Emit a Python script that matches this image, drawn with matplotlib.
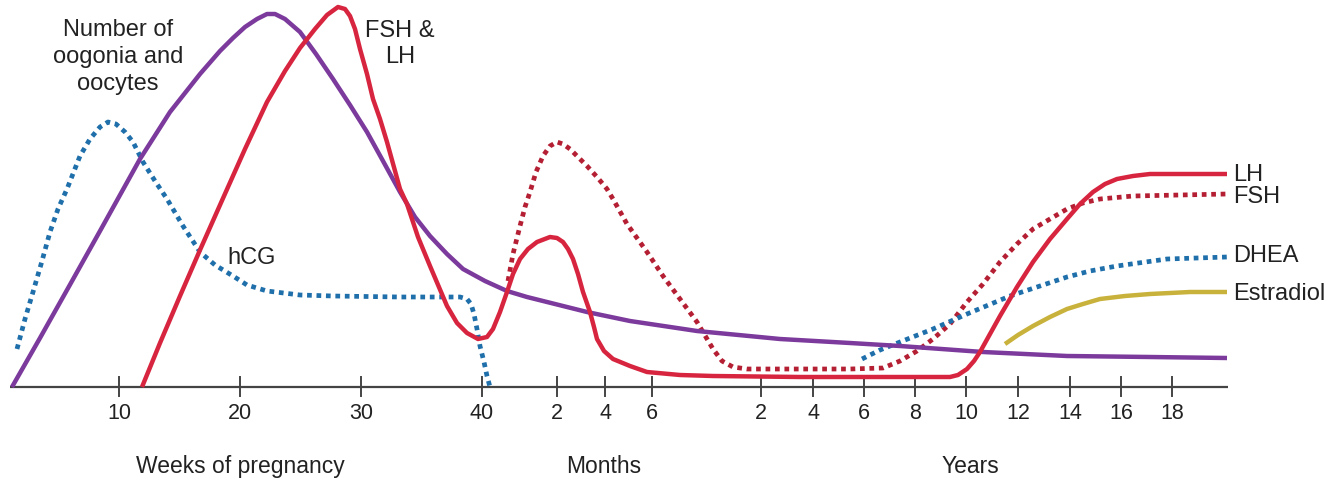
import matplotlib.pyplot as plt

# schematic chart: x in chart units along the time axis, y measured downward from the top
tick_x = [119, 240, 361, 482, 557, 605, 652, 761, 813, 864, 915, 966, 1018, 1070, 1121, 1172]
tick_labels = ['10', '20', '30', '40', '2', '4', '6', '2', '4', '6', '8', '10', '12', '14', '16', '18']

oog_x = [12, 40, 67, 100, 140, 170, 200, 220, 233, 245, 257, 267, 275, 285, 300, 316, 333, 350, 367, 383,
         400, 415, 430, 447, 463, 485, 507, 527, 547, 587, 630, 697, 780, 850, 900, 983, 1067, 1150, 1227]
oog_y = [388, 339, 291, 232, 160, 113, 75, 52, 39, 28, 20, 15, 15, 20, 33, 55, 80, 106, 133, 162,
         193, 218, 237, 255, 270, 282, 292, 298, 303, 313, 322, 332, 340, 344, 347, 353, 357, 358, 359]

lh_x = [142, 160, 180, 200, 220, 245, 267, 285, 300, 315, 327, 338, 345, 350, 355, 360, 367, 373,
        380, 387, 400, 407, 418, 430, 447, 457, 467, 478, 487, 493, 500, 507, 513, 520, 528, 537, 550, 557,
        563, 568, 573, 578, 583, 590, 594, 597, 604, 613, 630, 647, 680, 713, 800, 900, 950, 958, 967, 974,
        980, 1000, 1017, 1033, 1050, 1067, 1080, 1093, 1105, 1117, 1133, 1150, 1227]
lh_y = [388, 344, 297, 251, 206, 150, 103, 72, 49, 30, 16, 8, 10, 17, 30, 50, 75, 100,
        120, 143, 190, 205, 238, 267, 307, 324, 334, 340, 338, 330, 313, 293, 275, 260, 250, 243, 238, 239,
        243, 250, 260, 275, 293, 313, 328, 340, 352, 360, 367, 373, 376, 377, 378, 378, 378, 376, 370, 362,
        353, 317, 288, 263, 240, 220, 205, 193, 185, 180, 177, 175, 175]

hcg_x = [17, 25, 33, 42, 50, 58, 67, 80, 90, 100, 108, 116, 125, 133, 143, 155, 167, 183, 200, 215,
         233, 247, 267, 300, 333, 400, 460, 467, 471, 474, 477, 480, 484, 487, 490]
hcg_y = [350, 320, 293, 262, 233, 210, 190, 157, 140, 128, 123, 125, 133, 143, 163, 182, 200, 227, 253, 266,
         277, 286, 292, 296, 297, 298, 298, 300, 305, 315, 330, 347, 363, 377, 388]

fsh_x = [508, 513, 520, 525, 530, 536, 543, 550, 557, 563, 570, 580, 587, 597, 607, 613, 627, 647, 663, 680,
         697, 713, 722, 733, 747, 780, 850, 883, 900, 917, 933, 950, 967, 983, 1000, 1017, 1033, 1050, 1067,
         1083, 1100, 1133, 1227]
fsh_y = [282, 255, 227, 208, 193, 173, 157, 147, 143, 145, 150, 160, 167, 178, 190, 200, 225, 253, 277, 300,
         323, 350, 362, 368, 370, 370, 370, 369, 362, 352, 340, 325, 303, 285, 263, 245, 230, 220, 210,
         204, 200, 197, 195]

dhea_x = [862, 880, 900, 933, 967, 1010, 1040, 1067, 1090, 1117, 1167, 1227]
dhea_y = [360, 351, 343, 330, 315, 297, 287, 278, 272, 267, 260, 258]

e2_x = [1005, 1018, 1033, 1050, 1067, 1083, 1100, 1125, 1150, 1190, 1227]
e2_y = [345, 336, 327, 318, 310, 305, 300, 297, 295, 293, 293]

fig = plt.figure(figsize=(13.37, 4.81), dpi=100)
ax = fig.add_axes([0, 0, 1, 1])
ax.set_xlim(0, 1337)
ax.set_ylim(481, 0)
ax.axis('off')
plt.rcParams['font.family'] = ['Liberation Sans', 'DejaVu Sans']
txt = '#222222'

# axis line and ticks
ax.plot([10, 1228], [388, 388], color='#444444', lw=1.6, solid_capstyle='butt', zorder=1)
for tx, tl in zip(tick_x, tick_labels):
    ax.plot([tx, tx], [378, 397], color='#444444', lw=1.4, zorder=1)
    ax.text(tx, 414, tl, ha='center', va='center', fontsize=15.5, color=txt)

ax.text(240, 467, 'Weeks of pregnancy', ha='center', va='center', fontsize=16.5, color=txt)
ax.text(604, 467, 'Months', ha='center', va='center', fontsize=16.5, color=txt)
ax.text(970, 467, 'Years', ha='center', va='center', fontsize=16.5, color=txt)

dot = (0, (1, 1))
ax.plot(oog_x, oog_y, color='#7b3a9c', lw=3.2, solid_joinstyle='round', solid_capstyle='butt', zorder=3)
ax.plot(lh_x, lh_y, color='#d8253f', lw=3.2, solid_joinstyle='round', solid_capstyle='butt', zorder=4)
ax.plot(hcg_x, hcg_y, color='#1f6fab', lw=3.4, linestyle=dot, dash_capstyle='butt', zorder=2)
ax.plot(fsh_x, fsh_y, color='#b51f33', lw=3.4, linestyle=dot, dash_capstyle='butt', zorder=2)
ax.plot(dhea_x, dhea_y, color='#1f6fab', lw=3.4, linestyle=dot, dash_capstyle='butt', zorder=2)
ax.plot(e2_x, e2_y, color='#c9b23c', lw=3.2, solid_capstyle='butt', zorder=2)

ax.text(118, 57, 'Number of\noogonia and\noocytes', ha='center', va='center', fontsize=17,
        linespacing=1.27, color=txt)
ax.text(400, 44, 'FSH &\nLH', ha='center', va='center', fontsize=17, linespacing=1.27, color=txt)
ax.text(252, 258, 'hCG', ha='center', va='center', fontsize=17, color=txt)
ax.text(1233, 175, 'LH', ha='left', va='center', fontsize=17, color=txt)
ax.text(1233, 197, 'FSH', ha='left', va='center', fontsize=17, color=txt)
ax.text(1233, 256, 'DHEA', ha='left', va='center', fontsize=17, color=txt)
ax.text(1233, 294, 'Estradiol', ha='left', va='center', fontsize=17, color=txt)

fig.savefig('out.png', dpi=100)
